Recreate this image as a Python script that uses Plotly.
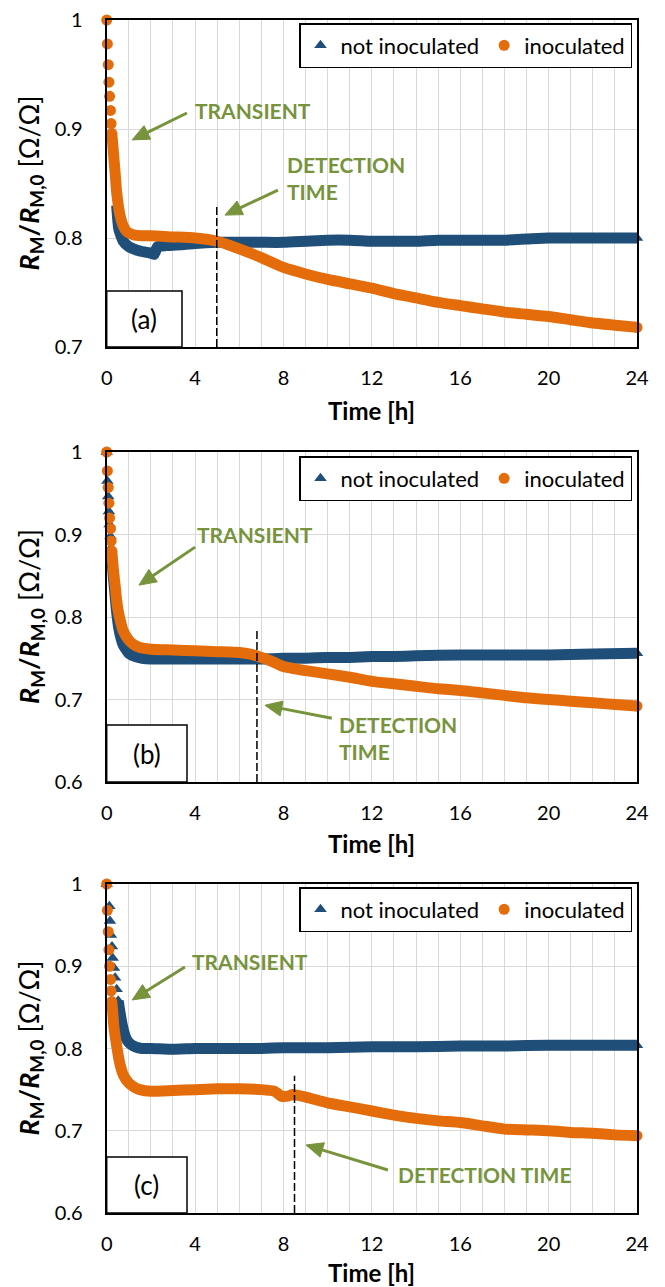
import math
import plotly.graph_objects as go

W, H = 665, 1287
BLUE = "#1F4E79"
ORANGE = "#E46C0A"
GREEN = "#77933C"
GRID = "#D9D9D9"
FONT = "Lato"

# ---------------- data ----------------
# Panel (a)
t_a_not = [0.45, 0.55, 0.75, 1.0, 1.5, 2.0, 2.15, 2.3, 2.7, 3.5, 4, 5, 6, 7, 8, 9, 10, 11, 12,
           13, 14, 15, 16, 17, 18, 19, 20, 21, 22, 23, 24]
r_a_not = [0.830, 0.808, 0.797, 0.792, 0.788, 0.786, 0.785, 0.792, 0.793, 0.794, 0.795, 0.796,
           0.796, 0.796, 0.796, 0.797, 0.798, 0.798, 0.797, 0.797, 0.797, 0.798, 0.798, 0.798,
           0.798, 0.799, 0.800, 0.800, 0.800, 0.800, 0.800]
n_a_not = 0
t_a_ino = [0, 0.03, 0.07, 0.1, 0.13, 0.17, 0.2, 0.23, 0.27, 0.33, 0.4, 0.45, 0.6, 0.75, 0.9, 1.2,
           1.6, 2, 3, 4, 5, 6, 7, 8, 9, 10, 11, 12, 13, 14, 15, 16, 17, 18, 19, 20, 21, 22, 23, 24]
r_a_ino = [1.0, 0.978, 0.959, 0.943, 0.930, 0.917, 0.905, 0.896, 0.887, 0.872, 0.855, 0.842,
           0.821, 0.811, 0.806, 0.803, 0.802, 0.802, 0.801, 0.800, 0.797, 0.790, 0.782, 0.773,
           0.767, 0.762, 0.758, 0.754, 0.749, 0.745, 0.741, 0.738, 0.735, 0.732, 0.730, 0.728,
           0.725, 0.722, 0.720, 0.718]
n_a_ino = 8

# Panel (b)
t_b_not = [0, 0.03, 0.07, 0.1, 0.13, 0.17, 0.2, 0.23, 0.27, 0.33, 0.38, 0.45, 0.55, 0.65, 0.75,
           1.0, 1.3, 1.6, 2, 3, 4, 5, 6, 7, 8, 9, 10, 11, 12, 13, 14, 16, 18, 20, 22, 24]
r_b_not = [1.0, 0.965, 0.946, 0.928, 0.912, 0.898, 0.884, 0.872, 0.858, 0.840, 0.826, 0.806,
           0.786, 0.774, 0.766, 0.756, 0.752, 0.750, 0.749, 0.749, 0.749, 0.749, 0.749, 0.749,
           0.750, 0.750, 0.751, 0.751, 0.752, 0.752, 0.753, 0.754, 0.754, 0.754, 0.755, 0.756]
n_b_not = 8
t_b_ino = [0, 0.03, 0.07, 0.1, 0.13, 0.17, 0.2, 0.23, 0.27, 0.33, 0.38, 0.45, 0.53, 0.65, 0.75,
           1.0, 1.2, 1.5, 2, 3, 4, 5, 6, 6.5, 7, 7.5, 8, 9, 10, 11, 12, 13, 14, 15, 16, 17, 18,
           19, 20, 21, 22, 23, 24]
r_b_ino = [1.0, 0.977, 0.957, 0.938, 0.920, 0.907, 0.892, 0.880, 0.867, 0.850, 0.839, 0.820,
           0.806, 0.792, 0.783, 0.772, 0.767, 0.763, 0.761, 0.760, 0.759, 0.758, 0.757, 0.755,
           0.751, 0.746, 0.740, 0.735, 0.731, 0.727, 0.722, 0.719, 0.716, 0.713, 0.711, 0.708,
           0.705, 0.702, 0.700, 0.698, 0.696, 0.694, 0.692]
n_b_ino = 8

# Panel (c)
t_c_not = [0, 0.12, 0.15, 0.19, 0.24, 0.27, 0.33, 0.38, 0.45, 0.52, 0.6, 0.7, 0.8, 0.9, 1.05,
           1.3, 1.6, 2, 3, 4, 5, 6, 7, 8, 9, 10, 12, 14, 16, 18, 20, 22, 24]
r_c_not = [1.0, 0.973, 0.955, 0.938, 0.924, 0.910, 0.898, 0.886, 0.872, 0.858, 0.844, 0.829,
           0.818, 0.811, 0.806, 0.802, 0.800, 0.800, 0.799, 0.800, 0.800, 0.800, 0.800, 0.801,
           0.801, 0.801, 0.802, 0.802, 0.803, 0.803, 0.804, 0.804, 0.804]
n_c_not = 10
t_c_ino = [0, 0.03, 0.07, 0.1, 0.13, 0.17, 0.2, 0.23, 0.27, 0.33, 0.4, 0.5, 0.6, 0.75, 1.0, 1.25,
           1.5, 2, 3, 4, 5, 6, 7, 7.6, 7.9, 8.2, 8.4, 9, 10, 11, 12, 13, 14, 15, 16, 17, 18, 19,
           20, 21, 22, 23, 24]
r_c_ino = [1.0, 0.968, 0.942, 0.920, 0.900, 0.884, 0.870, 0.857, 0.845, 0.825, 0.812, 0.795,
           0.781, 0.768, 0.758, 0.753, 0.750, 0.748, 0.749, 0.750, 0.751, 0.751, 0.750, 0.748,
           0.742, 0.742, 0.744, 0.741, 0.734, 0.729, 0.724, 0.719, 0.715, 0.712, 0.710, 0.706,
           0.702, 0.701, 0.700, 0.698, 0.697, 0.695, 0.694]
n_c_ino = 8

series_names = ["not inoculated", "inoculated"]
panel_labels = ["(a)", "(b)", "(c)"]
y_ranges = [[0.7, 1.0], [0.6, 1.0], [0.6, 1.0]]
detection_times = [4.98, 6.8, 8.5]
detection_tops = [0.83, 0.786, 0.767]
x_ticks = [0, 4, 8, 12, 16, 20, 24]

# ---------------- layout geometry (pixels) ----------------
PX_L, PX_R = 106.7, 637.0
X_MAX = 24.0
panel_px = [(20, 347), (452, 782), (884, 1213)]
label_box_px = [(182, 291), (187, 725), (187, 1157)]
xtitle_py = [410, 843, 1272]
legend_top_py = [23, 456, 887]


def xp(px):
    return px / W


def yp(py):
    return 1 - py / H


def to_px(p, t, y):
    top, bot = panel_px[p]
    ymin, ymax = y_ranges[p]
    return (PX_L + t / X_MAX * (PX_R - PX_L),
            top + (ymax - y) / (ymax - ymin) * (bot - top))


def to_data(p, px, py):
    top, bot = panel_px[p]
    ymin, ymax = y_ranges[p]
    return ((px - PX_L) / (PX_R - PX_L) * X_MAX,
            ymax - (py - top) / (bot - top) * (ymax - ymin))


data = [
    (t_a_not, r_a_not, n_a_not, t_a_ino, r_a_ino, n_a_ino),
    (t_b_not, r_b_not, n_b_not, t_b_ino, r_b_ino, n_b_ino),
    (t_c_not, r_c_not, n_c_not, t_c_ino, r_c_ino, n_c_ino),
]

fig = go.Figure()
legend_keys = ["legend", "legend2", "legend3"]

for i, (tn, rn, nn, ti, ri, ni) in enumerate(data):
    xa = "x" if i == 0 else f"x{i+1}"
    ya = "y" if i == 0 else f"y{i+1}"
    for (t, r, n, color, sym, size, name) in [
        (tn, rn, nn, BLUE, "triangle-up", 11, series_names[0]),
        (ti, ri, ni, ORANGE, "circle", 11, series_names[1]),
    ]:
        start = max(n - 1, 0)
        fig.add_trace(go.Scatter(
            x=t[start:], y=r[start:], mode="lines",
            line=dict(color=color, width=11, shape="spline", smoothing=0.5),
            xaxis=xa, yaxis=ya, showlegend=False, hoverinfo="skip"))
        mx = t[:n] + [t[-1]]
        my = r[:n] + [r[-1]]
        fig.add_trace(go.Scatter(
            x=mx, y=my, mode="markers", name=name,
            marker=dict(color=color, symbol=sym, size=size, line=dict(width=0)),
            xaxis=xa, yaxis=ya, legend=legend_keys[i], cliponaxis=False))

layout = dict(
    width=W, height=H, margin=dict(l=0, r=0, t=0, b=0, autoexpand=False),
    paper_bgcolor="white", plot_bgcolor="white",
    font=dict(family=FONT, color="black"),
)

annotations = []
shapes = []

for i in range(3):
    top, bot = panel_px[i]
    xkey = "xaxis" if i == 0 else f"xaxis{i+1}"
    ykey = "yaxis" if i == 0 else f"yaxis{i+1}"
    xref = "x" if i == 0 else f"x{i+1}"
    yref = "y" if i == 0 else f"y{i+1}"
    layout[xkey] = dict(
        domain=[xp(PX_L), xp(PX_R)], anchor=yref, range=[0, X_MAX],
        tickvals=x_ticks, showgrid=True, gridcolor=GRID, gridwidth=1,
        minor=dict(dtick=1, tick0=0, showgrid=True, gridcolor=GRID, gridwidth=1),
        showline=True, linecolor="black", linewidth=2, mirror=True, zeroline=False,
        ticks="outside", ticklen=12, tickcolor="rgba(0,0,0,0)",
        tickfont=dict(family=FONT, size=20, color="black"),
        automargin=False, fixedrange=True)
    layout[ykey] = dict(
        domain=[yp(bot), yp(top)], anchor=xref, range=y_ranges[i], dtick=0.1,
        showgrid=True, gridcolor=GRID, gridwidth=1,
        showline=True, linecolor="black", linewidth=2, mirror=True, zeroline=False,
        ticks="outside", ticklen=18, tickcolor="rgba(0,0,0,0)",
        tickfont=dict(family=FONT, size=20, color="black"),
        automargin=False, fixedrange=True)
    layout[legend_keys[i]] = dict(
        x=xp(632), xanchor="right", y=yp(legend_top_py[i]), yanchor="top",
        orientation="h", bgcolor="white", bordercolor="black", borderwidth=1.5,
        font=dict(family=FONT, size=22, color="black"), itemwidth=30,
        tracegroupgap=0)

    # axis titles
    annotations.append(dict(
        text="<b><i>R</i><sub>M</sub>/<i>R</i><sub>M,0</sub></b> [Ω/Ω]",
        xref="paper", yref="paper", x=xp(30), y=yp((top + bot) / 2),
        textangle=-90, showarrow=False, xanchor="center", yanchor="middle",
        font=dict(family=FONT, size=27, color="black")))
    annotations.append(dict(
        text="<b>Time [h]</b>", xref="paper", yref="paper",
        x=xp((PX_L + PX_R) / 2), y=yp(xtitle_py[i]), showarrow=False,
        xanchor="center", yanchor="middle",
        font=dict(family=FONT, size=24, color="black")))

    # panel label box
    bx1, by0 = label_box_px[i]
    shapes.append(dict(type="rect", xref="paper", yref="paper",
                       x0=xp(PX_L), x1=xp(bx1), y0=yp(bot), y1=yp(by0),
                       line=dict(color="black", width=1.5), fillcolor="white"))
    annotations.append(dict(
        text=panel_labels[i], xref="paper", yref="paper",
        x=xp((PX_L + bx1) / 2), y=yp((by0 + bot) / 2), showarrow=False,
        xanchor="center", yanchor="middle",
        font=dict(family=FONT, size=26, color="black")))

    # detection time dashed line
    shapes.append(dict(type="line", xref=xref, yref=yref,
                       x0=detection_times[i], x1=detection_times[i],
                       y0=y_ranges[i][0], y1=detection_tops[i],
                       line=dict(color="black", width=1.5, dash="8px,3px")))

# green texts
gfont = dict(family=FONT, size=21, color=GREEN)
texts = [
    # (panel, text, x, y)
    (0, "<b>TRANSIENT</b>", 3.91, 0.917),
    (0, "<b>DETECTION<br>TIME</b>", 8.07, 0.8546),
    (1, "<b>TRANSIENT</b>", 4.0, 0.9005),
    (1, "<b>DETECTION<br>TIME</b>", 10.42, 0.6529),
    (2, "<b>TRANSIENT</b>", 3.77, 0.9052),
    (2, "<b>DETECTION TIME</b>", 13.09, 0.6474),
]
for p, txt, x, y in texts:
    xref = "x" if p == 0 else f"x{p+1}"
    yref = "y" if p == 0 else f"y{p+1}"
    annotations.append(dict(text=txt, xref=xref, yref=yref, x=x, y=y,
                            showarrow=False, xanchor="left", yanchor="middle",
                            align="left", font=gfont))

# green arrows drawn as shapes (shaft + filled head)
arrows = [
    # (panel, head x, head y, tail x, tail y)
    (0, 1.15, 0.890, 3.63, 0.9147),
    (0, 5.35, 0.821, 7.75, 0.844),
    (1, 1.46, 0.8386, 4.0, 0.8847),
    (1, 7.16, 0.6930, 10.19, 0.6772),
    (2, 1.15, 0.859, 3.54, 0.8991),
    (2, 9.02, 0.6827, 12.73, 0.6523),
]
HEAD_LEN, HEAD_W = 17.0, 15.0
for p, hx, hy, tx, ty in arrows:
    xref = "x" if p == 0 else f"x{p+1}"
    yref = "y" if p == 0 else f"y{p+1}"
    hpx, hpy = to_px(p, hx, hy)
    tpx, tpy = to_px(p, tx, ty)
    dx, dy = hpx - tpx, hpy - tpy
    ln = math.hypot(dx, dy)
    ux, uy = dx / ln, dy / ln
    bx, by = hpx - ux * HEAD_LEN, hpy - uy * HEAD_LEN
    nx, ny = -uy, ux
    b1 = to_data(p, bx + nx * HEAD_W / 2, by + ny * HEAD_W / 2)
    b2 = to_data(p, bx - nx * HEAD_W / 2, by - ny * HEAD_W / 2)
    shaft_end = to_data(p, bx + ux * 2, by + uy * 2)
    shapes.append(dict(type="line", xref=xref, yref=yref, x0=tx, y0=ty,
                       x1=shaft_end[0], y1=shaft_end[1],
                       line=dict(color=GREEN, width=3)))
    shapes.append(dict(type="path", xref=xref, yref=yref,
                       path=f"M {hx},{hy} L {b1[0]},{b1[1]} L {b2[0]},{b2[1]} Z",
                       fillcolor=GREEN, line=dict(color=GREEN, width=1)))

layout["annotations"] = annotations
layout["shapes"] = shapes
fig.update_layout(**layout)

fig.write_html("out.html")
